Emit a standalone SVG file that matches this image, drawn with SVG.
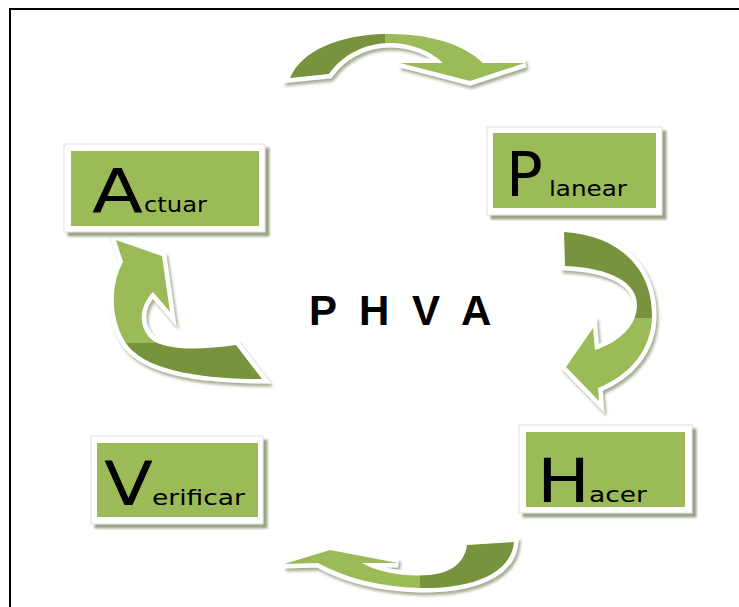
<svg xmlns="http://www.w3.org/2000/svg" width="739" height="607" viewBox="0 0 739 607">
<defs>
<style>
.frame{fill:#fff;stroke:#e2e2e2;stroke-width:1}
.inner{fill:#9BBB59}
.big{font-family:"DejaVu Sans","Liberation Sans",sans-serif;font-size:61px;fill:#000}
.small{font-family:"DejaVu Sans","Liberation Sans",sans-serif;font-size:22px;fill:#000}
.arrow{stroke:#fff;stroke-width:9;stroke-linejoin:miter;paint-order:stroke;filter:url(#ash)}
</style>
<filter id="bsh" x="-10%" y="-10%" width="130%" height="130%">
<feDropShadow dx="4" dy="4" stdDeviation="1.2" flood-color="#8e9a78" flood-opacity="0.9"/>
</filter>
<filter id="ash" x="-20%" y="-20%" width="140%" height="140%">
<feDropShadow dx="2" dy="3" stdDeviation="1.5" flood-color="#8e9a78" flood-opacity="0.8"/>
</filter>
<linearGradient id="gTop" gradientUnits="userSpaceOnUse" x1="370" y1="0" x2="400" y2="0">
<stop offset="0.5" stop-color="#77933C"/><stop offset="0.5" stop-color="#9BBB59"/>
</linearGradient>
<linearGradient id="gRight" gradientUnits="userSpaceOnUse" x1="0" y1="310" x2="0" y2="326">
<stop offset="0.5" stop-color="#77933C"/><stop offset="0.5" stop-color="#9BBB59"/>
</linearGradient>
<linearGradient id="gBottom" gradientUnits="userSpaceOnUse" x1="405" y1="0" x2="435" y2="0">
<stop offset="0.5" stop-color="#9BBB59"/><stop offset="0.5" stop-color="#77933C"/>
</linearGradient>
<linearGradient id="gLeft" gradientUnits="userSpaceOnUse" x1="0" y1="335" x2="0" y2="351">
<stop offset="0.5" stop-color="#9BBB59"/><stop offset="0.5" stop-color="#77933C"/>
</linearGradient>
</defs>
<rect width="739" height="607" fill="#fff"/>
<rect x="10" y="9" width="800" height="700" fill="none" stroke="#000" stroke-width="2"/>

<g id="connectors">
<path id="arrow-top" class="arrow" fill="url(#gTop)" d="M 290,78 C 302,50 340,35 385,34 C 430,33 465,45 483,63 L 525,63 L 470,81 L 400,63 L 443,63 C 430,50 410,43 390,43 C 365,43 342,55 329,74 Z"/>
<path id="arrow-right" class="arrow" fill="url(#gRight)" d="M 564,232 C 615,235 652,265 652,315 C 652,350 630,375 598,388 L 599,401 L 566,367 L 593,328 L 595,350 C 620,342 637,325 637,305 C 637,282 610,268 565,266 Z"/>
<path id="arrow-bottom" class="arrow" fill="url(#gBottom)" d="M 514,542 C 511,575 470,589 420,588 C 380,587 345,578 318,563 L 284,564 L 330,550 L 398,563 L 362,563 C 380,573 405,577 430,575 C 455,572 465,560 467,545 Z"/>
<path id="arrow-left" class="arrow" fill="url(#gLeft)" d="M 262,379 C 210,379 150,373 128,346 C 110,322 110,285 123,262 L 116,240 L 162,256 L 170,312 L 153,292 C 140,305 137,325 151,339 C 166,351 200,350 236,345 Z"/>
</g>

<g id="node-actuar">
<rect class="frame" x="64" y="144" width="201" height="88" filter="url(#bsh)"/>
<rect class="inner" x="71" y="151" width="188" height="75"/>
<text class="big" x="92" y="212" textLength="51" lengthAdjust="spacingAndGlyphs">A</text>
<text class="small" x="144" y="212" textLength="63" lengthAdjust="spacingAndGlyphs">ctuar</text>
</g>

<g id="node-planear">
<rect class="frame" x="487" y="127" width="175" height="88" filter="url(#bsh)"/>
<rect class="inner" x="493" y="133" width="163" height="75"/>
<text class="big" x="506" y="196">P</text>
<text class="small" x="549" y="196" textLength="78" lengthAdjust="spacingAndGlyphs">lanear</text>
</g>

<g id="node-hacer">
<rect class="frame" x="519" y="425" width="173" height="88" filter="url(#bsh)"/>
<rect class="inner" x="526" y="432" width="159" height="75"/>
<text class="big" x="537" y="502" textLength="53" lengthAdjust="spacingAndGlyphs">H</text>
<text class="small" x="589" y="502" textLength="58" lengthAdjust="spacingAndGlyphs">acer</text>
</g>

<g id="node-verificar">
<rect class="frame" x="91" y="436" width="172" height="88" filter="url(#bsh)"/>
<rect class="inner" x="97" y="443" width="161" height="74"/>
<text class="big" x="104" y="505" textLength="49" lengthAdjust="spacingAndGlyphs">V</text>
<text class="small" x="152" y="505" textLength="93" lengthAdjust="spacingAndGlyphs">erificar</text>
</g>

<g id="node-phva">
<text x="309" y="325" font-family="'Liberation Sans',Arial,sans-serif" font-weight="bold" font-size="42" letter-spacing="5.5" fill="#000">P H V A</text>
</g>
</svg>
